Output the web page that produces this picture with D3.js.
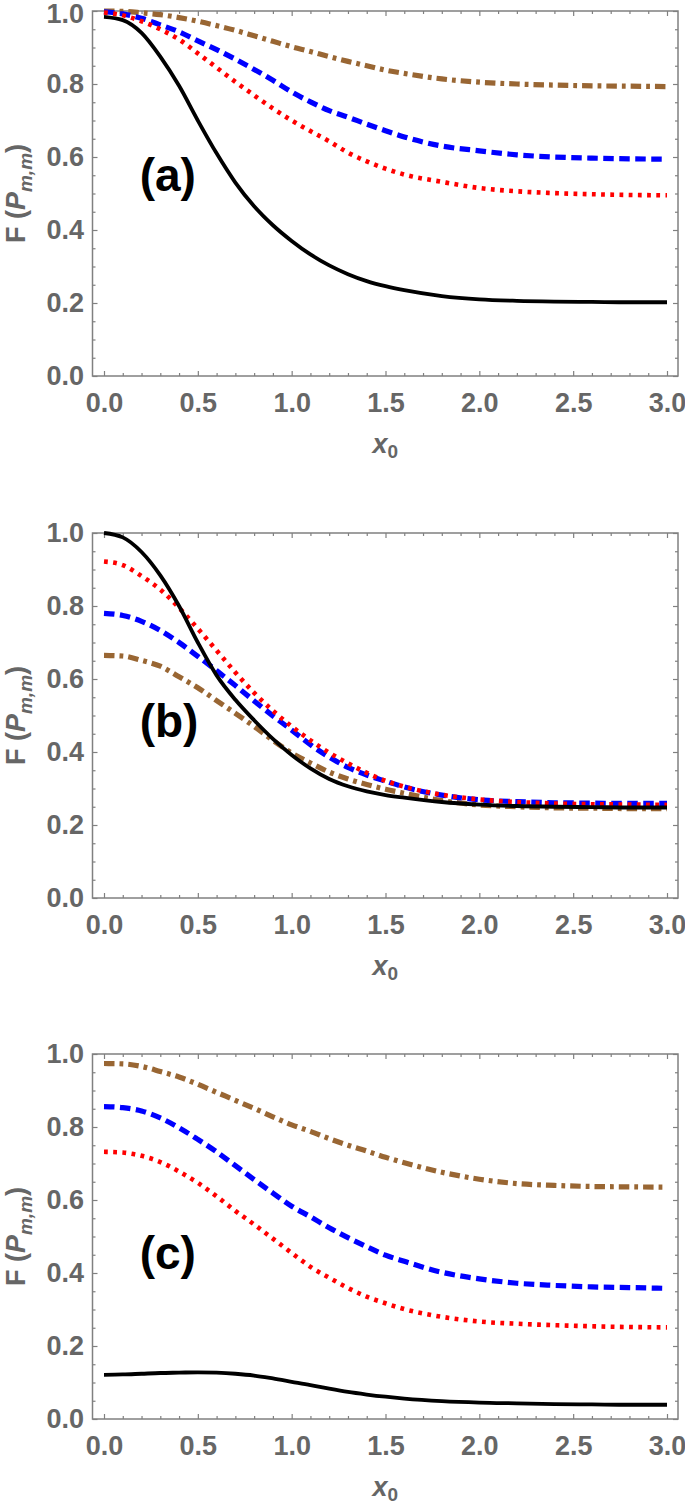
<!DOCTYPE html>
<html>
<head>
<meta charset="utf-8">
<script src="https://cdn.jsdelivr.net/npm/d3@7"></script>
<style>
  html, body { margin: 0; padding: 0; background: #fff; }
  svg { display: block; }
  text { font-family: "Liberation Sans", Arial, sans-serif; }
</style>
</head>
<body>
<svg id="chart" width="685" height="1505"></svg>
<script>
// ---------- data ----------
const x0Values = [0,0.1,0.2,0.3,0.4,0.5,0.6,0.7,0.8,0.9,1.0,1.1,1.2,1.3,1.4,1.5,1.6,1.8,2.0,2.2,2.4,2.6,2.8,3.0];

const panelLabels = ["(a)", "(b)", "(c)"];
const seriesNames = ["black", "red", "blue", "brown"];

// panel (a)
const aBlack = [0.984,0.975,0.940,0.875,0.795,0.700,0.610,0.530,0.465,0.413,0.370,0.333,0.303,0.279,0.260,0.246,0.235,0.219,0.210,0.206,0.204,0.203,0.202,0.202];
const aRed   = [0.996,0.988,0.972,0.950,0.922,0.884,0.845,0.806,0.769,0.733,0.700,0.671,0.643,0.612,0.588,0.568,0.552,0.532,0.515,0.506,0.501,0.498,0.496,0.495];
const aBlue  = [0.998,0.992,0.980,0.962,0.943,0.918,0.894,0.868,0.840,0.810,0.778,0.751,0.727,0.709,0.690,0.672,0.655,0.630,0.617,0.606,0.600,0.597,0.595,0.594];
const aBrown = [1.000,0.999,0.995,0.990,0.982,0.972,0.960,0.947,0.932,0.917,0.902,0.889,0.875,0.862,0.850,0.838,0.829,0.814,0.805,0.800,0.797,0.795,0.794,0.793];

// panel (b)
const bBlack = [1.000,0.988,0.948,0.884,0.800,0.700,0.610,0.543,0.487,0.436,0.392,0.355,0.326,0.306,0.292,0.282,0.275,0.263,0.256,0.252,0.250,0.249,0.248,0.248];
const bRed   = [0.922,0.912,0.882,0.845,0.795,0.738,0.678,0.618,0.562,0.513,0.470,0.432,0.398,0.369,0.343,0.321,0.305,0.283,0.270,0.263,0.259,0.257,0.256,0.255];
const bBlue  = [0.780,0.774,0.758,0.733,0.700,0.662,0.623,0.582,0.540,0.499,0.460,0.420,0.386,0.358,0.337,0.320,0.304,0.282,0.269,0.264,0.261,0.260,0.259,0.259];
const bBrown = [0.665,0.663,0.651,0.635,0.606,0.576,0.541,0.506,0.470,0.432,0.397,0.370,0.345,0.326,0.311,0.298,0.287,0.267,0.255,0.250,0.247,0.246,0.245,0.245];

// panel (c)
const cBlack = [0.121,0.122,0.124,0.126,0.127,0.128,0.127,0.124,0.119,0.111,0.102,0.093,0.083,0.074,0.067,0.061,0.056,0.049,0.045,0.043,0.041,0.040,0.039,0.039];
const cRed   = [0.732,0.730,0.721,0.704,0.678,0.647,0.610,0.570,0.533,0.494,0.455,0.417,0.387,0.359,0.335,0.317,0.301,0.280,0.267,0.261,0.257,0.254,0.252,0.251];
const cBlue  = [0.856,0.853,0.844,0.825,0.798,0.766,0.732,0.694,0.656,0.619,0.583,0.554,0.524,0.497,0.472,0.449,0.432,0.402,0.384,0.372,0.366,0.362,0.360,0.358];
const cBrown = [0.974,0.973,0.966,0.952,0.937,0.917,0.895,0.873,0.851,0.828,0.806,0.788,0.768,0.750,0.734,0.717,0.702,0.676,0.657,0.645,0.640,0.637,0.636,0.635];

const xMajorTicks = [0, 0.5, 1.0, 1.5, 2.0, 2.5, 3.0];
const xTickLabels = ["0.0","0.5","1.0","1.5","2.0","2.5","3.0"];
const yMajorTicks = [0, 0.2, 0.4, 0.6, 0.8, 1.0];
const yTickLabels = ["0.0","0.2","0.4","0.6","0.8","1.0"];

// ---------- layout / styles ----------
const panels = [
  { label: panelLabels[0], top: 11,   series: [aBlack, aRed, aBlue, aBrown], labelPos: [0.19, 0.55],  topLabelShift: 3 },
  { label: panelLabels[1], top: 533,  series: [bBlack, bRed, bBlue, bBrown], labelPos: [0.19, 0.485], topLabelShift: 0 },
  { label: panelLabels[2], top: 1054, series: [cBlack, cRed, cBlue, cBrown], labelPos: [0.19, 0.455], topLabelShift: 0 }
];
const styles = {
  black: { color: "#000000", width: 3.8, dash: null },
  red:   { color: "#ff0000", width: 4.6, dash: "3.8,5.4" },
  blue:  { color: "#0000ff", width: 5.2, dash: "10.5,5.5" },
  brown: { color: "#996633", width: 5.2, dash: "10.5,5,3.8,5" }
};

const frameLeft = 92.5, frameRight = 678, plotH = 365;
const xMinor = d3.range(0, 3.0001, 0.1).map(v => +v.toFixed(2));
const yMinor = d3.range(0, 1.0001, 0.05).map(v => +v.toFixed(2));
const gray = "#666666", frameColor = "#808080";

const svg = d3.select("#chart");
const x = d3.scaleLinear().domain([0, 3]).range([104, 667]);

panels.forEach(p => {
  const y = d3.scaleLinear().domain([0, 1]).range([p.top + plotH, p.top]);
  const g = svg.append("g");

  const isMajX = v => xMajorTicks.some(t => Math.abs(t - v) < 1e-9);
  const isMajY = v => yMajorTicks.some(t => Math.abs(t - v) < 1e-9);

  // minor ticks (all four sides, pointing inward)
  const axB = d3.axisBottom(x).tickValues(xMinor.filter(v => !isMajX(v))).tickSize(-3).tickFormat("");
  const axT = d3.axisTop(x).tickValues(xMinor.filter(v => !isMajX(v))).tickSize(-3).tickFormat("");
  const axL = d3.axisLeft(y).tickValues(yMinor.filter(v => !isMajY(v))).tickSize(-3).tickFormat("");
  const axR = d3.axisRight(y).tickValues(yMinor.filter(v => !isMajY(v))).tickSize(-3).tickFormat("");
  g.append("g").attr("transform", `translate(0,${p.top + plotH})`).call(axB);
  g.append("g").attr("transform", `translate(0,${p.top})`).call(axT);
  g.append("g").attr("transform", `translate(${frameLeft},0)`).call(axL);
  g.append("g").attr("transform", `translate(${frameRight},0)`).call(axR);

  // major ticks with labels
  const mB = d3.axisBottom(x).tickValues(xMajorTicks).tickSize(-5).tickPadding(17)
    .tickFormat((d, i) => xTickLabels[i]);
  const mL = d3.axisLeft(y).tickValues(yMajorTicks).tickSize(-5).tickPadding(8.5)
    .tickFormat((d, i) => yTickLabels[i]);
  const mT = d3.axisTop(x).tickValues(xMajorTicks).tickSize(-5).tickFormat("");
  const mR = d3.axisRight(y).tickValues(yMajorTicks).tickSize(-5).tickFormat("");
  g.append("g").attr("class", "lab").attr("transform", `translate(0,${p.top + plotH})`).call(mB);
  const gl = g.append("g").attr("class", "lab").attr("transform", `translate(${frameLeft},0)`).call(mL);
  g.append("g").attr("transform", `translate(0,${p.top})`).call(mT);
  g.append("g").attr("transform", `translate(${frameRight},0)`).call(mR);

  g.selectAll(".domain").remove();
  g.selectAll(".tick line").attr("stroke", frameColor).attr("stroke-width", 1.2);
  g.selectAll(".lab text").attr("fill", gray).attr("font-size", 27).attr("font-weight", "bold");
  gl.selectAll(".tick").filter(d => d === 1.0).select("text").attr("y", p.topLabelShift);

  // frame
  g.append("rect")
    .attr("x", frameLeft).attr("y", p.top)
    .attr("width", frameRight - frameLeft).attr("height", plotH)
    .attr("fill", "none").attr("stroke", frameColor).attr("stroke-width", 1.5);

  // curves
  const line = d3.line().x(d => x(d[0])).y(d => y(d[1])).curve(d3.curveMonotoneX);
  const order = [3, 2, 1, 0];
  order.forEach(si => {
    const st = styles[seriesNames[si]];
    const data = x0Values.map((xv, i) => [xv, p.series[si][i]]);
    g.append("path")
      .datum(data)
      .attr("d", line)
      .attr("fill", "none")
      .attr("stroke", st.color)
      .attr("stroke-width", st.width)
      .attr("stroke-dasharray", st.dash)
      .attr("stroke-linecap", "butt");
  });

  // panel label
  g.append("text")
    .attr("x", x(p.labelPos[0])).attr("y", y(p.labelPos[1]))
    .attr("dy", "0.35em")
    .attr("font-size", 46).attr("font-weight", "bold").attr("fill", "#000")
    .text(p.label);

  // y-axis label F (P_{m,m})
  const cy = p.top + plotH / 2;
  const yl = g.append("text")
    .attr("transform", `translate(25,${cy}) rotate(-90)`)
    .attr("text-anchor", "middle")
    .attr("font-size", 27).attr("font-weight", "bold").attr("fill", gray);
  yl.append("tspan").text("F (");
  yl.append("tspan").attr("font-style", "italic").text("P");
  yl.append("tspan").attr("font-style", "italic").attr("font-size", 19).attr("dy", 7).text("m,m");
  yl.append("tspan").attr("dy", -7).text(")");

  // x-axis label x0
  const xl = g.append("text")
    .attr("x", (frameLeft + frameRight) / 2).attr("y", p.top + plotH + 77)
    .attr("text-anchor", "middle")
    .attr("font-size", 27).attr("font-weight", "bold").attr("fill", gray);
  xl.append("tspan").attr("font-style", "italic").text("x");
  xl.append("tspan").attr("font-size", 19).attr("dy", 5).text("0");
});
</script>
</body>
</html>
